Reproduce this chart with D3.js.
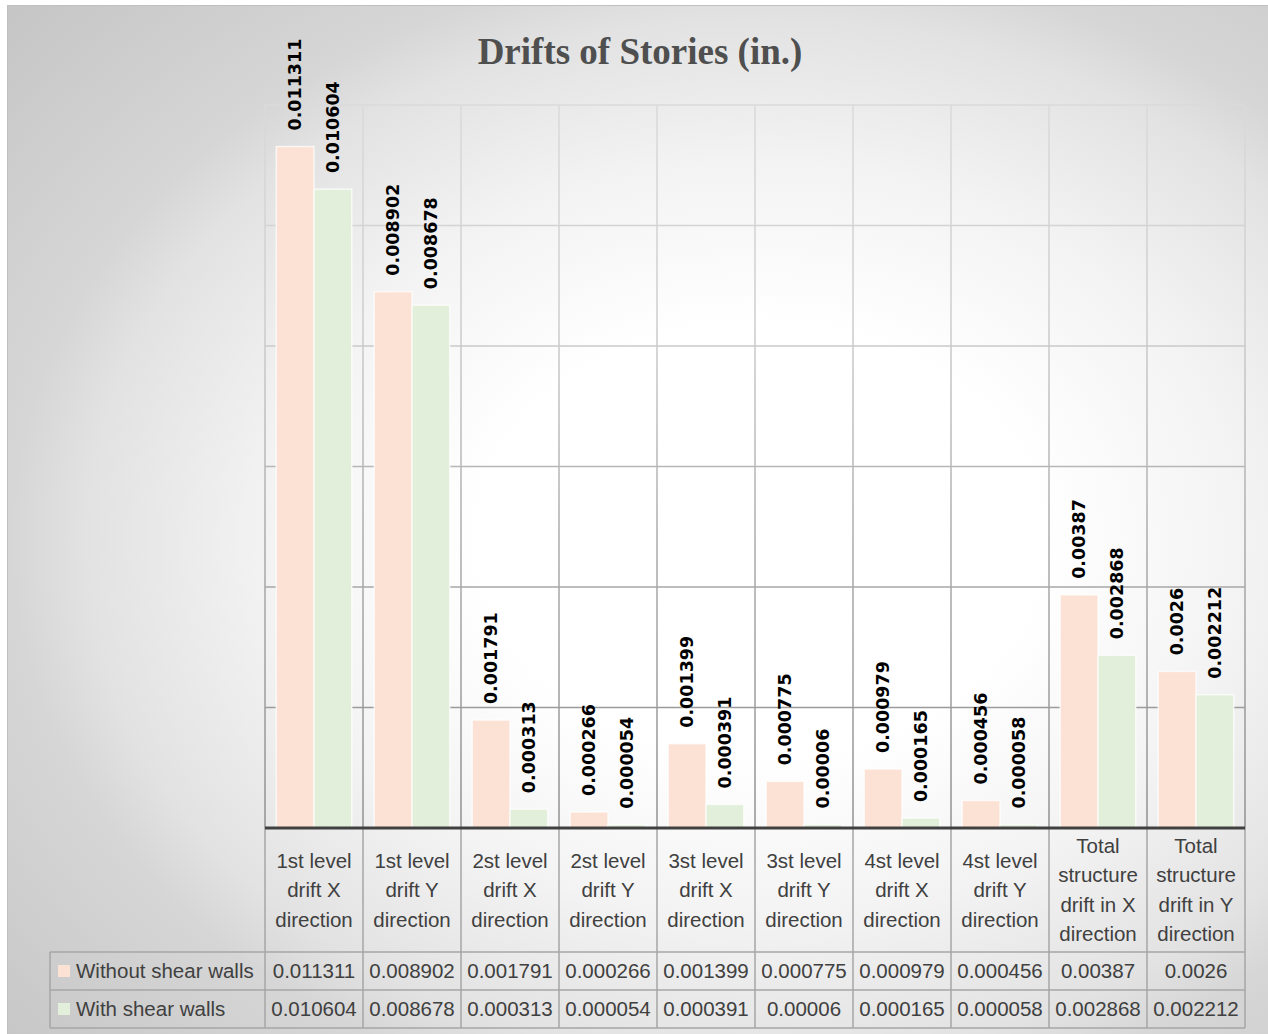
<!DOCTYPE html>
<html>
<head>
<meta charset="utf-8">
<script src="https://cdn.jsdelivr.net/npm/d3@7"></script>
<style>
  html, body { margin: 0; padding: 0; background: #ffffff; }
  svg { display: block; }
</style>
</head>
<body>
<div id="chart"></div>
<script>
// ---- data ----
const categories = [
  ["1st level", "drift X", "direction"],
  ["1st level", "drift Y", "direction"],
  ["2st level", "drift X", "direction"],
  ["2st level", "drift Y", "direction"],
  ["3st level", "drift X", "direction"],
  ["3st level", "drift Y", "direction"],
  ["4st level", "drift X", "direction"],
  ["4st level", "drift Y", "direction"],
  ["Total", "structure", "drift in X", "direction"],
  ["Total", "structure", "drift in Y", "direction"]
];
const seriesNames = ["Without shear walls", "With shear walls"];
const withoutWalls = [0.011311, 0.008902, 0.001791, 0.000266, 0.001399, 0.000775, 0.000979, 0.000456, 0.00387, 0.0026];
const withWalls    = [0.010604, 0.008678, 0.000313, 0.000054, 0.000391, 0.00006, 0.000165, 0.000058, 0.002868, 0.002212];
const labelsWithout = ["0.011311","0.008902","0.001791","0.000266","0.001399","0.000775","0.000979","0.000456","0.00387","0.0026"];
const labelsWith    = ["0.010604","0.008678","0.000313","0.000054","0.000391","0.00006","0.000165","0.000058","0.002868","0.002212"];
const yTicks = [0.002, 0.004, 0.006, 0.008, 0.010, 0.012];
const titleText = "Drifts of Stories (in.)";

// ---- layout ----
const W = 1268, H = 1034;
const plot = { left: 265, right: 1245, top: 105, bottom: 828 };
const fills = ["#fbe2d5", "#e2efda"];

const svg = d3.select("#chart").append("svg").attr("width", W).attr("height", H);
const defs = svg.append("defs");

const bg = defs.append("radialGradient").attr("id", "bg")
  .attr("gradientUnits", "userSpaceOnUse")
  .attr("cx", 0).attr("cy", 0).attr("r", 1)
  .attr("gradientTransform", "translate(760,540) scale(1040,806)");
[[0, "#ffffff"], [0.27, "#ffffff"], [0.47, "#f3f3f3"], [0.65, "#e2e2e2"], [0.72, "#d6d6d6"], [1, "#c4c4c4"]]
  .forEach(([o, c]) => bg.append("stop").attr("offset", o).attr("stop-color", c));

const gg = defs.append("linearGradient").attr("id", "grid")
  .attr("gradientUnits", "userSpaceOnUse")
  .attr("x1", 0).attr("y1", plot.top).attr("x2", 0).attr("y2", plot.bottom);
[[0, "#dadada"], [0.3, "#cdcdcd"], [0.6, "#ababab"], [1, "#909090"]]
  .forEach(([o, c]) => gg.append("stop").attr("offset", o).attr("stop-color", c));

// chart background
svg.append("rect").attr("x", 7.5).attr("y", 5.5).attr("width", W).attr("height", H)
  .attr("fill", "url(#bg)").attr("stroke", "#c0c0c0").attr("stroke-width", 1);

// scales
const x0 = d3.scaleBand().domain(d3.range(categories.length)).range([plot.left, plot.right]).paddingInner(0).paddingOuter(0);
const x1 = d3.scaleBand().domain([0, 1]).range([0, x0.bandwidth()]).paddingOuter(11 / 37).paddingInner(0);
const y = d3.scaleLinear().domain([0, 0.012]).range([plot.bottom, plot.top]);

// horizontal gridlines
svg.append("g").selectAll("line").data(yTicks).join("line")
  .attr("x1", plot.left).attr("x2", plot.right)
  .attr("y1", d => y(d)).attr("y2", d => y(d))
  .attr("stroke", "url(#grid)").attr("stroke-width", 1.5);

// vertical category lines in plot
const bounds = d3.range(categories.length + 1).map(i => i < categories.length ? x0(i) : plot.right);
svg.append("g").selectAll("line").data(bounds).join("line")
  .attr("x1", d => d).attr("x2", d => d)
  .attr("y1", plot.top).attr("y2", plot.bottom)
  .attr("stroke", "url(#grid)").attr("stroke-width", 1.5);

// bars
const series = [withoutWalls, withWalls];
const labels = [labelsWithout, labelsWith];
series.forEach((vals, s) => {
  const g = svg.append("g");
  g.selectAll("rect").data(vals).join("rect")
    .attr("x", (d, i) => x0(i) + x1(s))
    .attr("width", x1.bandwidth())
    .attr("y", d => y(d))
    .attr("height", d => y(0) - y(d))
    .attr("fill", fills[s])
    .attr("stroke", "rgba(255,255,255,0.7)").attr("stroke-width", 1.5);
  g.selectAll("text").data(vals).join("text")
    .attr("transform", (d, i) => `translate(${x0(i) + x1(s) + x1.bandwidth() / 2},${y(d) - 16}) rotate(-90)`)
    .attr("dy", "0.36em")
    .attr("text-anchor", "start")
    .attr("font-family", "'DejaVu Sans', Verdana, sans-serif")
    .attr("font-weight", "bold")
    .attr("font-size", 17.5)
    .attr("fill", "#000")
    .text((d, i) => labels[s][i]);
});

// ---- data table ----
const tableFont = "'Liberation Sans', Arial, sans-serif";
const tColor = "#404040";
const headerBottom = 952, row1Bottom = 990, row2Bottom = 1028, legendLeft = 50;
const lineCol = "#a6a6a6";
const t = svg.append("g");

// vertical lines of table
t.selectAll("line.v").data(bounds).join("line").attr("class", "v")
  .attr("x1", d => d).attr("x2", d => d)
  .attr("y1", plot.bottom).attr("y2", row2Bottom)
  .attr("stroke", lineCol).attr("stroke-width", 1.5);
// horizontal lines
[headerBottom, row1Bottom, row2Bottom].forEach(yy => {
  t.append("line").attr("x1", legendLeft).attr("x2", plot.right)
    .attr("y1", yy).attr("y2", yy).attr("stroke", lineCol).attr("stroke-width", 1.5);
});
t.append("line").attr("x1", legendLeft).attr("x2", legendLeft)
  .attr("y1", headerBottom).attr("y2", row2Bottom).attr("stroke", lineCol).attr("stroke-width", 1.5);

// category header text
const headerMid = (plot.bottom + headerBottom) / 2;
const lh = 29.5;
categories.forEach((lines, i) => {
  const cx = x0(i) + x0.bandwidth() / 2;
  const txt = t.append("text").attr("text-anchor", "middle")
    .attr("font-family", tableFont).attr("font-size", 20.5).attr("fill", tColor);
  lines.forEach((ln, k) => {
    txt.append("tspan").attr("x", cx)
      .attr("y", headerMid + (k - (lines.length - 1) / 2) * lh)
      .attr("dy", "0.35em").text(ln);
  });
});

// rows
const rowMids = [(headerBottom + row1Bottom) / 2, (row1Bottom + row2Bottom) / 2];
labels.forEach((vals, s) => {
  t.append("g").selectAll("text").data(vals).join("text")
    .attr("x", (d, i) => x0(i) + x0.bandwidth() / 2)
    .attr("y", rowMids[s]).attr("dy", "0.35em")
    .attr("text-anchor", "middle")
    .attr("font-family", tableFont).attr("font-size", 20.5).attr("fill", tColor)
    .text(d => d);
  t.append("rect").attr("x", 58).attr("y", rowMids[s] - 6).attr("width", 12).attr("height", 12)
    .attr("fill", fills[s]);
  t.append("text").attr("x", 76).attr("y", rowMids[s]).attr("dy", "0.35em")
    .attr("font-family", tableFont).attr("font-size", 20.5).attr("fill", tColor)
    .text(seriesNames[s]);
});

// axis line (category axis)
svg.append("line").attr("x1", plot.left).attr("x2", plot.right)
  .attr("y1", plot.bottom).attr("y2", plot.bottom)
  .attr("stroke", "#404040").attr("stroke-width", 3);

// title
svg.append("text").attr("x", 640).attr("y", 64)
  .attr("text-anchor", "middle")
  .attr("font-family", "'Liberation Serif', 'Times New Roman', serif")
  .attr("font-weight", "bold").attr("font-size", 37)
  .attr("fill", "#4f4f4f")
  .text(titleText);
</script>
</body>
</html>
